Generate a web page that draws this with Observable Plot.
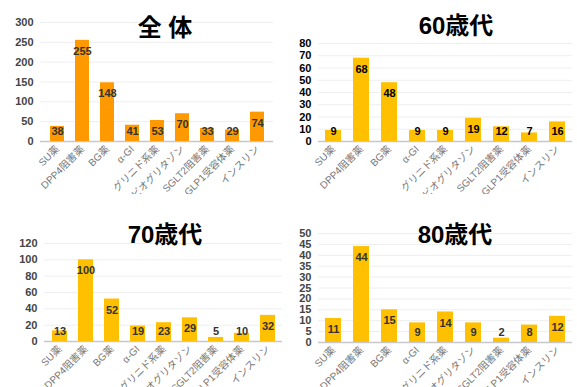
<!DOCTYPE html>
<html><head><meta charset="utf-8">
<script src="https://cdn.jsdelivr.net/npm/d3@7"></script>
<script src="https://cdn.jsdelivr.net/npm/@observablehq/plot@0.6"></script>
<style>
body{margin:0;background:#fff;font-family:"Liberation Sans","Noto Sans CJK JP",sans-serif;}
#wrap{position:relative;width:577px;height:387px;overflow:hidden;}
.panel{position:absolute;overflow:hidden;}
.title{position:absolute;transform:translate(-50%,-50%);font-size:24px;font-weight:bold;color:#000;white-space:nowrap;font-family:"Liberation Sans","Noto Sans CJK JP",sans-serif;}
</style></head>
<body><div id="wrap"></div>
<script>
const categories = ["SU薬","DPP4阻害薬","BG薬","α-GI","グリニド系薬","ビオグリタゾン","SGLT2阻害薬","GLP1受容体薬","インスリン"];
const totalValues = [38,255,148,41,53,70,33,29,74];
const sixtiesValues = [9,68,48,9,9,19,12,7,16];
const seventiesValues = [13,100,52,19,23,29,5,10,32];
const eightiesValues = [11,44,15,9,14,9,2,8,12];
const titles = ["全 体","60歳代","70歳代","80歳代"];
const totalTicks = [0,50,100,150,200,250,300];
const sixtiesTicks = [0,10,20,30,40,50,60,70,80];
const seventiesTicks = [0,20,40,60,80,100,120];
const eightiesTicks = [0,5,10,15,20,25,30,35,40,45,50];

const panels = [
  {values: totalValues, ticks: totalTicks, title: titles[0], left:0, top:0, width:288, height:194,
   mt:22, mb:53, ml:40, mr:15, pad:0.46, color:"#FF9900", tickFill:"#444", labelFill:"#333", tx:165, ty:25},
  {values: sixtiesValues, ticks: sixtiesTicks, title: titles[1], left:288, top:0, width:289, height:194,
   mt:43, mb:53, ml:30, mr:5, pad:0.43, color:"#FFC000", tickFill:"#000", labelFill:"#000", tx:456, ty:23},
  {values: seventiesValues, ticks: seventiesTicks, title: titles[2], left:0, top:195, width:288, height:192,
   mt:48, mb:46, ml:44, mr:6, pad:0.43, color:"#FFC000", tickFill:"#444", labelFill:"#333", tx:165, ty:232},
  {values: eightiesValues, ticks: eightiesTicks, title: titles[3], left:288, top:195, width:289, height:192,
   mt:38, mb:45, ml:30, mr:5, pad:0.43, color:"#FFC000", tickFill:"#444", labelFill:"#333", tx:455, ty:232}
];

const wrap = document.getElementById("wrap");
for (const p of panels) {
  const data = categories.map((c, i) => ({cat: c, v: p.values[i]}));
  const yMax = p.ticks[p.ticks.length - 1];
  const plotH = p.height - p.mt - p.mb;
  const minLabel = yMax * 21 / plotH;
  const chart = Plot.plot({
    width: p.width, height: p.height,
    marginTop: p.mt, marginBottom: p.mb, marginLeft: p.ml, marginRight: p.mr,
    style: {fontFamily: '"Liberation Sans","Noto Sans CJK JP",sans-serif', background: "transparent", overflow: "visible"},
    x: {domain: categories, paddingInner: p.pad, paddingOuter: p.pad / 2},
    y: {domain: [0, yMax]},
    marks: [
      Plot.gridY({ticks: p.ticks, stroke: "#eeeeee", strokeOpacity: 1}),
      Plot.ruleY([0], {stroke: "#c8c8c8", strokeWidth: 1.5}),
      Plot.barY(data, {x: "cat", y: "v", fill: p.color}),
      Plot.text(data, {x: "cat", y: d => Math.max(d.v, minLabel), dy: 11, text: d => String(d.v),
        fill: p.labelFill, fontSize: 11, fontWeight: "bold"}),
      Plot.axisY({ticks: p.ticks, tickSize: 0, tickPadding: 7, fontSize: 11, fontWeight: "bold", fill: p.tickFill, label: null}),
      Plot.axisX({tickRotate: -45, tickSize: 0, tickPadding: 6, fontSize: 10, fill: "#777", label: null})
    ]
  });
  const div = document.createElement("div");
  div.className = "panel";
  div.style.left = p.left + "px"; div.style.top = p.top + "px";
  div.style.width = p.width + "px"; div.style.height = p.height + "px";
  div.appendChild(chart);
  wrap.appendChild(div);
  const t = document.createElement("div");
  t.className = "title";
  t.textContent = p.title;
  t.style.left = p.tx + "px"; t.style.top = p.ty + "px";
  wrap.appendChild(t);
}
</script></body></html>
